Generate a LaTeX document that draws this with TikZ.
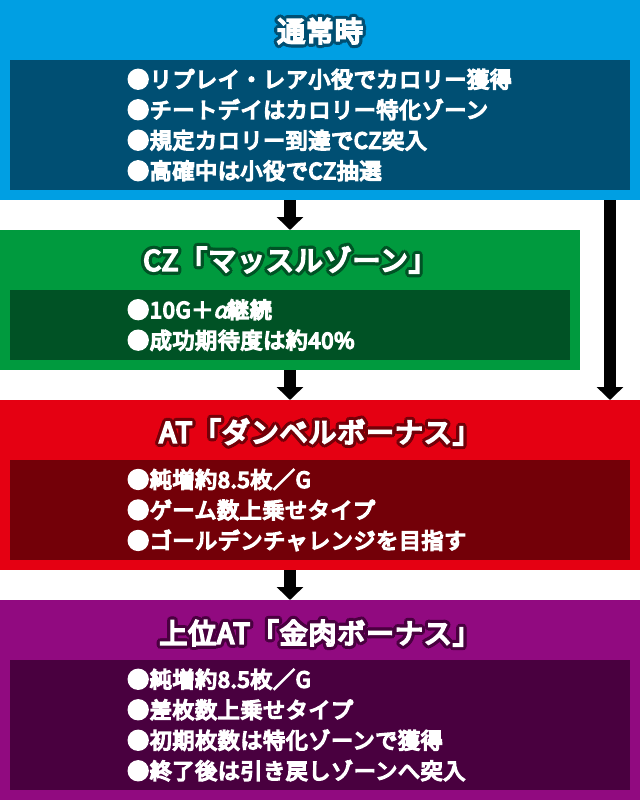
\documentclass[tikz,border=0pt]{standalone}
\usepackage{fontspec}
\usetikzlibrary{arrows.meta}
\newfontfamily\jpfont{Noto Sans CJK JP}[FakeBold=7,LetterSpace=3]
\newfontfamily\jpslant{Noto Sans CJK JP}[FakeBold=5,FakeSlant=0.25]
\definecolor{bluea}{RGB}{0,159,227}
\definecolor{blueb}{RGB}{0,79,115}
\definecolor{greena}{RGB}{0,154,62}
\definecolor{greenb}{RGB}{0,82,37}
\definecolor{reda}{RGB}{229,0,18}
\definecolor{redb}{RGB}{115,0,8}
\definecolor{purplea}{RGB}{145,10,128}
\definecolor{purpleb}{RGB}{73,0,63}
\newlength\odx \newlength\ody
\newcommand\outlined[2]{%
  \foreach \a in {0,30,...,330}{%
    \pgfmathsetlength\odx{3.2pt*cos(\a)}%
    \pgfmathsetlength\ody{3.2pt*sin(\a)}%
    \rlap{\hspace*{\odx}\raisebox{\ody}{\textcolor{#1}{#2}}}}%
  \textcolor{white}{#2}}
\begin{document}
\begin{tikzpicture}[x=1pt, y=-1pt, >={Triangle[width=26pt,length=13pt]},
  box/.style={inner sep=0, outer sep=0, anchor=north west},
  title/.style={font=\jpfont\fontsize{28}{30}\selectfont, inner sep=0},
  body/.style={font=\jpfont\fontsize{22}{30.5}\selectfont, text=white, align=left, inner sep=0, anchor=west}]
\useasboundingbox (0,0) rectangle (640,800);

% normal play
\node[box, fill=bluea, minimum width=640pt, minimum height=200pt] (normal) at (0,0) {};
\node[box, fill=blueb, minimum width=620pt, minimum height=130pt] (normalin) at (10,60) {};
\node[title] (normaltitle) at (320,31) {\outlined{blueb}{通常時}};
\node[body] (normaltext) at (127,125) {●リプレイ・レア小役でカロリー獲得\\●チートデイはカロリー特化ゾーン\\●規定カロリー到達でCZ突入\\●高確中は小役でCZ抽選};

% CZ
\node[box, fill=greena, minimum width=580pt, minimum height=140pt] (cz) at (0,230) {};
\node[box, fill=greenb, minimum width=560pt, minimum height=70pt] (czin) at (10,290) {};
\node[title] (cztitle) at (290,260) {\outlined{greenb}{CZ「マッスルゾーン」}};
\node[body] (cztext) at (127,325) {●10G＋{\jpslant α}継続\\●成功期待度は約40\%};

% AT
\node[box, fill=reda, minimum width=640pt, minimum height=170pt] (at) at (0,400) {};
\node[box, fill=redb, minimum width=620pt, minimum height=100pt] (atin) at (10,460) {};
\node[title] (attitle) at (320,432) {\outlined{redb}{AT「ダンベルボーナス」}};
\node[body] (attext) at (127,510) {●純増約8.5枚／G\\●ゲーム数上乗せタイプ\\●ゴールデンチャレンジを目指す};

% upper AT
\node[box, fill=purplea, minimum width=640pt, minimum height=200pt] (upper) at (0,600) {};
\node[box, fill=purpleb, minimum width=620pt, minimum height=130pt] (upperin) at (10,660) {};
\node[title] (uppertitle) at (320,633) {\outlined{purpleb}{上位AT「金肉ボーナス」}};
\node[body] (uppertext) at (127,725) {●純増約8.5枚／G\\●差枚数上乗せタイプ\\●初期枚数は特化ゾーンで獲得\\●終了後は引き戻しゾーンへ突入};

\coordinate (mid) at (290,0);
\coordinate (side) at (610,0);
\draw[->, line width=12pt] (normal.south -| mid) -- (cz.north);
\draw[->, line width=12pt] (cz.south) -- (at.north -| mid);
\draw[->, line width=12pt] (normal.south -| side) -- (at.north -| side);
\draw[->, line width=12pt] (at.south -| mid) -- (upper.north -| mid);
\end{tikzpicture}
\end{document}
